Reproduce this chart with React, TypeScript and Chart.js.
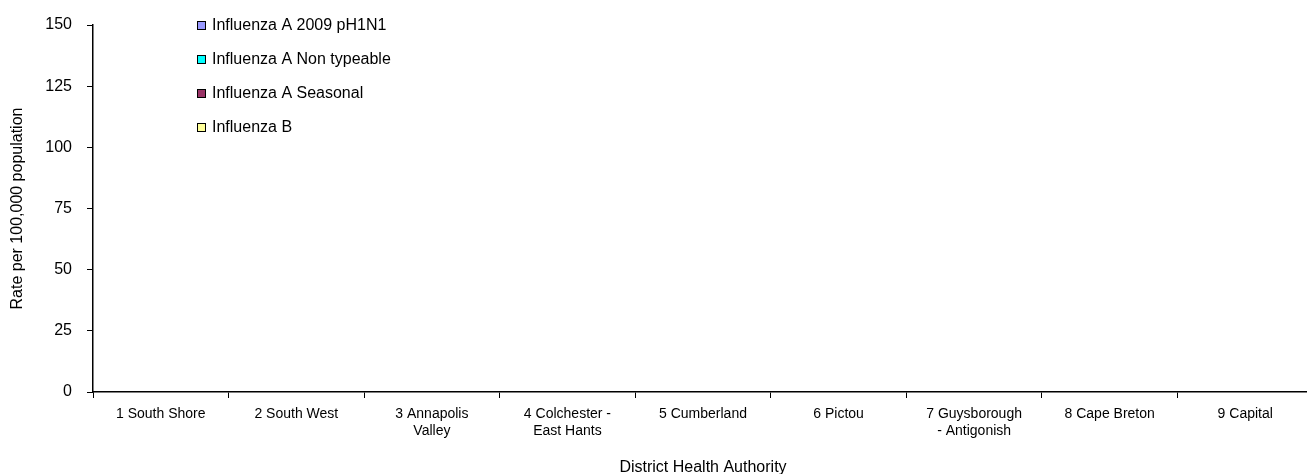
import React, { useEffect, useRef } from "react";
import { Chart, registerables } from "chart.js";

Chart.register(...registerables);

// District Health Authorities (multi-line labels are arrays)
const districts: (string | string[])[] = [
  "1 South Shore",
  "2 South West",
  ["3 Annapolis", "Valley"],
  ["4 Colchester -", "East Hants"],
  "5 Cumberland",
  "6 Pictou",
  ["7 Guysborough", "- Antigonish"],
  "8 Cape Breton",
  "9 Capital",
];

// Rates per 100,000 population by influenza type
const pH1N1Rates = [0, 0, 0, 0, 0, 0, 0, 0, 0];
const nonTypeableRates = [0, 0, 0, 0, 0, 0, 0, 0, 0];
const seasonalRates = [0, 0, 0, 0, 0, 0, 0, 0, 0];
const influenzaBRates = [0, 0, 0, 0, 0, 0, 0, 0, 0];

const seriesNames = [
  "Influenza A 2009 pH1N1",
  "Influenza A Non typeable",
  "Influenza A Seasonal",
  "Influenza B",
];
const seriesColors = ["#9999FF", "#00FFFF", "#993366", "#FFFF99"];

const yMin = 0;
const yMax = 150;
const yStep = 25;

const FONT = "'Liberation Sans', Arial, sans-serif";

// Legend drawn inside the plot area, top-left
const insideLegend = {
  id: "insideLegend",
  afterDraw(chart: Chart) {
    const ctx = chart.ctx;
    const x0 = chart.chartArea.left + 104;
    const y0 = chart.chartArea.top + 0;
    const rowGap = 34;
    ctx.save();
    ctx.font = `16px ${FONT}`;
    ctx.textBaseline = "middle";
    chart.data.datasets.forEach((ds: any, i: number) => {
      const cy = y0 + i * rowGap;
      ctx.fillStyle = ds.backgroundColor;
      ctx.fillRect(x0, cy - 4, 9, 9);
      ctx.strokeStyle = "#000";
      ctx.lineWidth = 1;
      ctx.strokeRect(x0 + 0.5, cy - 3.5, 8, 8);
      ctx.fillStyle = "#000";
      ctx.fillText(ds.label, x0 + 15, cy + 1);
    });
    ctx.restore();
  },
};

export default function App() {
  const canvasRef = useRef<HTMLCanvasElement | null>(null);

  useEffect(() => {
    if (!canvasRef.current) return;
    const values = [pH1N1Rates, nonTypeableRates, seasonalRates, influenzaBRates];
    const chart = new Chart(canvasRef.current, {
      type: "bar",
      data: {
        labels: districts,
        datasets: values.map((v, i) => ({
          label: seriesNames[i],
          data: v,
          backgroundColor: seriesColors[i],
          borderColor: "#000",
          borderWidth: 1,
        })),
      },
      plugins: [insideLegend],
      options: {
        responsive: false,
        animation: false,
        layout: { padding: { top: 17, right: 15, left: 0, bottom: 0 } },
        plugins: {
          legend: { display: false },
          tooltip: { enabled: false },
        },
        scales: {
          x: {
            stacked: true,
            offset: true,
            afterFit: (scale: any) => {
              scale.height = 82;
            },
            grid: {
              offset: true,
              drawOnChartArea: false,
              drawTicks: true,
              tickLength: 6,
              color: "#000",
            },
            border: { color: "#000", width: 1.5 },
            ticks: {
              color: "#000",
              font: { family: FONT, size: 14, lineHeight: 1.2 },
              padding: 8,
              maxRotation: 0,
              autoSkip: false,
            },
            title: {
              display: true,
              text: "District Health Authority",
              color: "#000",
              font: { family: FONT, size: 16, lineHeight: 0.8 },
              padding: 0,
            },
          },
          y: {
            stacked: true,
            min: yMin,
            max: yMax,
            afterFit: (scale: any) => {
              scale.width = 85;
              scale.paddingTop = 0;
              scale.paddingBottom = 0;
            },
            grid: {
              drawOnChartArea: false,
              drawTicks: true,
              tickLength: 6,
              color: "#000",
            },
            border: { color: "#000", width: 1.5 },
            ticks: {
              stepSize: yStep,
              color: "#000",
              font: { family: FONT, size: 16 },
              padding: 15,
            },
            title: {
              display: true,
              text: "Rate per 100,000 population",
              color: "#000",
              font: { family: FONT, size: 16, lineHeight: 1.2 },
              padding: 0,
            },
          },
        },
      },
    });
    return () => chart.destroy();
  }, []);

  return (
    <div
      style={{
        position: "fixed",
        left: 8,
        top: 8,
        width: 1299,
        height: 466,
        overflow: "hidden",
      }}
    >
      <canvas ref={canvasRef} width={1320} height={466} style={{ display: "block" }} />
    </div>
  );
}
